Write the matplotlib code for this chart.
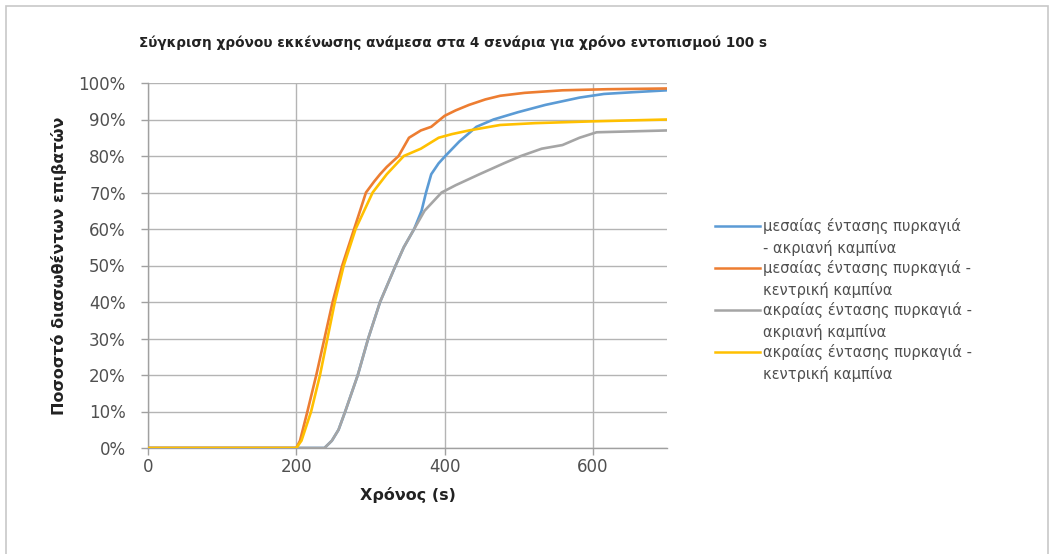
import matplotlib
matplotlib.use("Agg")
import matplotlib.pyplot as plt
from matplotlib.lines import Line2D
from matplotlib.patches import Rectangle
from matplotlib.ticker import FuncFormatter

# ---- data (time in s, percentage of evacuated passengers) ----
t_med_edge = [0, 238, 248, 257, 266, 283, 297, 313, 334, 345, 359, 369, 375, 382, 392, 401, 420, 443, 466, 499, 536, 582, 615, 656, 700]
p_med_edge = [0, 0, 2, 5, 10, 20, 30, 40, 50, 55, 60, 65, 70, 75, 78, 80, 84, 88, 90, 92, 94, 96, 97, 97.5, 98]

t_med_center = [0, 200, 205, 215, 227, 238, 249, 262, 278, 294, 305, 313, 322, 338, 352, 368, 382, 400, 415, 433, 455, 475, 508, 559, 620, 700]
p_med_center = [0, 0, 2, 10, 20, 30, 40, 50, 60, 70, 73, 75, 77, 80, 85, 87, 88, 91, 92.5, 94, 95.5, 96.5, 97.3, 98, 98.3, 98.5]

t_ext_edge = [0, 238, 248, 257, 266, 283, 297, 313, 334, 345, 359, 373, 396, 415, 447, 480, 503, 531, 559, 582, 605, 700]
p_ext_edge = [0, 0, 2, 5, 10, 20, 30, 40, 50, 55, 60, 65, 70, 72, 75, 78, 80, 82, 83, 85, 86.5, 87]

t_ext_center = [0, 200, 207, 220, 232, 242, 252, 264, 280, 303, 322, 345, 368, 392, 410, 433, 475, 522, 601, 700]
p_ext_center = [0, 0, 2, 10, 20, 30, 40, 50, 60, 70, 75, 80, 82, 85, 86, 87, 88.5, 89, 89.5, 90]

series_labels = [
    "μεσαίας έντασης πυρκαγιά\n- ακριανή καμπίνα",
    "μεσαίας έντασης πυρκαγιά -\nκεντρική καμπίνα",
    "ακραίας έντασης πυρκαγιά -\nακριανή καμπίνα",
    "ακραίας έντασης πυρκαγιά -\nκεντρική καμπίνα",
]
series_colors = ["#5B9BD5", "#ED7D31", "#A5A5A5", "#FFC000"]
x_ticks = [0, 200, 400, 600]
y_ticks = [0, 10, 20, 30, 40, 50, 60, 70, 80, 90, 100]

title = "Σύγκριση χρόνου εκκένωσης ανάμεσα στα 4 σενάρια για χρόνο εντοπισμού 100 s"
xlabel = "Χρόνος (s)"
ylabel = "Ποσοστό διασωθέντων επιβατών"

plt.rcParams['font.family'] = ['DejaVu Sans']

W, H = 1054, 554
fig = plt.figure(figsize=(W / 100, H / 100), dpi=100)
fig.patch.set_facecolor("white")

# chart border
fig.patches.append(Rectangle((6 / W, -0.02), (1048 - 6) / W, 1 - 6 / H + 0.02,
                             transform=fig.transFigure, fill=False,
                             edgecolor="#c8c8c8", linewidth=1.2))

ax = fig.add_axes([148 / W, 1 - 448 / H, (667 - 148) / W, (448 - 83) / H])

xs = [t_med_edge, t_med_center, t_ext_edge, t_ext_center]
ys = [p_med_edge, p_med_center, p_ext_edge, p_ext_center]
for i in [2, 0, 3, 1]:
    ax.plot(xs[i], ys[i], color=series_colors[i], linewidth=1.9, zorder=3 + i,
            solid_joinstyle="round")

ax.set_xlim(0, 700)
ax.set_ylim(0, 100)
ax.set_xticks(x_ticks)
ax.set_yticks(y_ticks)
ax.yaxis.set_major_formatter(FuncFormatter(lambda v, p: f"{int(v)}%"))
ax.grid(True, color="#b4b4b4", linewidth=1.0)
ax.set_axisbelow(True)
for s in ["top", "right"]:
    ax.spines[s].set_visible(False)
for s in ["left", "bottom"]:
    ax.spines[s].set_color("#a0a0a0")
    ax.spines[s].set_linewidth(1.0)
ax.tick_params(axis="both", colors="#a0a0a0", labelcolor="#505050", labelsize=12, length=5, width=1)
ax.tick_params(axis="y", pad=11)
ax.tick_params(axis="x", pad=2)

ax.set_xlabel(xlabel, fontsize=11.5, fontweight="bold", color="#222222", labelpad=8)
ax.set_ylabel(ylabel, fontsize=11.5, fontweight="bold", color="#222222", labelpad=8)

fig.text(453 / W, 1 - 43 / H, title, ha="center", va="center", fontsize=9.8,
         fontweight="bold", color="#222222")

# legend (manual, matching Excel layout)
leg_rows = [226, 268, 310, 352]
for i, (lab, col, yy) in enumerate(zip(series_labels, series_colors, leg_rows)):
    fig.add_artist(Line2D([715 / W, 760 / W], [1 - yy / H, 1 - yy / H],
                          transform=fig.transFigure, color=col, linewidth=1.8))
    fig.text(763 / W, 1 - (yy - 8) / H, lab, ha="left", va="top", fontsize=10.5,
             color="#505050", linespacing=1.45)

fig.savefig("out.png", dpi=100)
